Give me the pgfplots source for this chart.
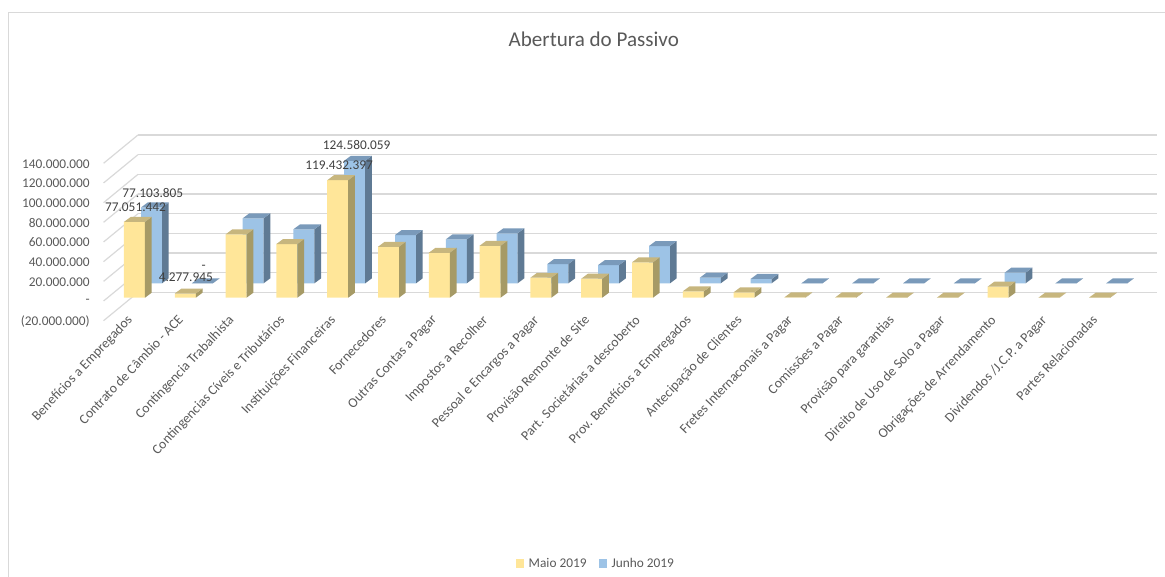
\documentclass[border=0pt]{standalone}
\usepackage{pgfplots}
\usepackage{pgfplotstable}
\usepackage{fontspec}
\setmainfont{Carlito}
\pgfplotsset{compat=1.18}
\definecolor{gridc}{HTML}{D9D9D9}
\definecolor{txt}{HTML}{595959}
\definecolor{lab}{HTML}{404040}
\definecolor{mf}{HTML}{FFE699}
\definecolor{ms}{HTML}{A69A66}
\definecolor{mt}{HTML}{C7B67E}
\definecolor{jf}{HTML}{9DC3E6}
\definecolor{js}{HTML}{5F7A94}
\definecolor{jt}{HTML}{7A9ABA}
\pgfplotstableread{
i v
0 77051442
1 4277945
2 64400000
3 54600000
4 119432397
5 51800000
6 45700000
7 52800000
8 20300000
9 19300000
10 36000000
11 6500000
12 5500000
13 400000
14 300000
15 0
16 0
17 11200000
18 0
19 200000
}\maio
\pgfplotstableread{
i v
0 77103805
1 0
2 66000000
3 54900000
4 124580059
5 49100000
6 44700000
7 50800000
8 19600000
9 18600000
10 37900000
11 5700000
12 4400000
13 0
14 0
15 0
16 0
17 10800000
18 0
19 0
}\junho
% extrusion of a bar: half width and depth in category units, depth rise in value units
\def\hw{0.2067}
\def\dx{0.132}
\def\dy{5080000}
\newcommand\extrude[4]{% table, side colour, top colour, row
  \pgfplotstablegetelem{#4}{v}\of#1%
  \let\val\pgfplotsretval
  \begingroup
  \pgfkeys{/pgf/fpu=true,/pgf/fpu/output format=fixed}%
  \pgfmathparse{\val+\dy}\xdef\vtop{\pgfmathresult}%
  \pgfkeys{/pgf/fpu=false}%
  \endgroup
  \pgfmathsetmacro\xa{#4-\hw}\pgfmathsetmacro\xb{#4+\hw}%
  \pgfmathsetmacro\xc{#4+\hw+\dx}\pgfmathsetmacro\xd{#4-\hw+\dx}%
  \addplot[fill=#2,draw=none,forget plot] coordinates {(\xb,0) (\xc,\dy) (\xc,\vtop) (\xb,\val)} --cycle;
  \addplot[fill=#3,draw=none,forget plot] coordinates {(\xa,\val) (\xb,\val) (\xc,\vtop) (\xd,\vtop)} --cycle;
}
\pgfplotsset{
  barsaxis/.style={
    scale only axis,
    anchor=south west,
    width=1016*0.75pt,
    height=157.4*0.75pt,
    xmin=-0.5,xmax=19.5,
    ymin=-20000000,ymax=140000000,
    clip=false,
    ymajorticks=false,
    axis line style={draw=none},
    major tick length=0pt,
    bar width=0.4134,
    bar shift=0pt,
  },
}
\begin{document}
\begin{tikzpicture}[x=1pt,y=1pt]
\path[use as bounding box] (0,0) rectangle (873.75pt,432.75pt);
\draw[gridc,line width=0.9pt] (6.4pt,0pt) -- (6.4pt,423.4pt) -- (873.75pt,423.4pt);

% back wall with its grid and the value labels
\begin{axis}[
  scale only axis,
  anchor=south west,
  at={(103.5pt,213.45pt)},
  width=763.9pt,
  height=118.05pt,
  xmin=0,xmax=1,
  ymin=-20000000,ymax=140000000,
  clip=false,
  scaled y ticks=false,
  axis line style={draw=none},
  xmajorticks=false,
  major tick length=0pt,
  ytick={-20000000,0,20000000,40000000,60000000,80000000,100000000,120000000,140000000},
  yticklabels={(20.000.000),-\hspace{7.5pt},20.000.000\hspace{2.5pt},40.000.000\hspace{2.5pt},60.000.000\hspace{2.5pt},80.000.000\hspace{2.5pt},100.000.000\hspace{2.5pt},120.000.000\hspace{2.5pt},140.000.000\hspace{2.5pt}},
  ymajorgrids,
  grid style={gridc,line width=0.9pt},
  yticklabel style={font=\fontsize{10}{12}\selectfont,text=txt,anchor=east,inner sep=0pt,xshift=-36pt,yshift=-21.6pt},
  title={\fontsize{15.8}{19}\selectfont\color{txt}Abertura do Passivo},
  title style={at={(0.4475,1.61)},anchor=center,yshift=-6pt},
]
\addplot[gridc,line width=0.9pt,forget plot] coordinates {(0,140000000) (-0.0338,111240000)};
\addplot[gridc,line width=0.9pt,forget plot] coordinates {(0,120000000) (-0.0338,91240000)};
\addplot[gridc,line width=0.9pt,forget plot] coordinates {(0,100000000) (-0.0338,71240000)};
\addplot[gridc,line width=0.9pt,forget plot] coordinates {(0,80000000) (-0.0338,51240000)};
\addplot[gridc,line width=0.9pt,forget plot] coordinates {(0,60000000) (-0.0338,31240000)};
\addplot[gridc,line width=0.9pt,forget plot] coordinates {(0,40000000) (-0.0338,11240000)};
\addplot[gridc,line width=0.9pt,forget plot] coordinates {(0,20000000) (-0.0338,-8760000)};
\addplot[gridc,line width=0.9pt,forget plot] coordinates {(0,0) (-0.0338,-28760000)};
\addplot[gridc,line width=0.9pt,forget plot] coordinates {(0,-20000000) (-0.0338,-48760000)};
\end{axis}

% Junho 2019 (back row)
\begin{axis}[barsaxis,at={(94.575pt,205.5pt)},xmajorticks=false]
\addplot[ybar,fill=jf,draw=none,forget plot] table[x=i,y=v] {\junho};
\pgfplotsinvokeforeach{0,...,19}{\extrude{\junho}{js}{jt}{#1}}
\node[font=\fontsize{10}{12}\selectfont,text=lab] at (axis cs:0,77103805) [xshift=1pt,yshift=11pt] {77.103.805};
\node[font=\fontsize{10}{12}\selectfont,text=lab] at (axis cs:1,0) [xshift=1pt,yshift=12pt] {-};
\node[font=\fontsize{10}{12}\selectfont,text=lab] at (axis cs:4,124580059) [xshift=1.5pt,yshift=11.8pt] {124.580.059};
\end{axis}

% Maio 2019 (front row)
\begin{axis}[barsaxis,at={(81.825pt,194.7pt)},
  xtick={0,...,19},
  xticklabels={Benefícios a Empregados,Contrato de Câmbio - ACE,Contingencia Trabalhista,Contingencias Cíveis e Tributários,Instituições Financeiras,Fornecedores,Outras Contas a Pagar,Impostos a Recolher,Pessoal e Encargos a Pagar,Provisão Remonte de Site,Part. Societárias a descoberto,Prov. Benefícios a Empregados,Antecipação de Clientes,Fretes Internaconais a Pagar,Comissões a Pagar,Provisão para garantias,Direito de Uso de Solo a Pagar,Obrigações de Arrendamento,Dividendos /J.C.P. a Pagar,Partes Relacionadas},
  xticklabel style={font=\fontsize{10.3}{12}\selectfont,text=txt,rotate=46.5,anchor=north east,inner sep=0pt,xshift=-2.46pt,yshift=6.46pt},
  legend style={at={(0.4797,-1.5635)},anchor=center,draw=none,fill=none,legend columns=2,
    font=\fontsize{10}{12}\selectfont,text=txt,
    /tikz/every even column/.append style={column sep=7.5pt}},
  legend cell align=left,
  legend image code/.code={\fill[#1,draw=none] (0pt,-3.3pt) rectangle (5.8pt,3.2pt);},
]
\addplot[ybar,fill=mf,draw=none,forget plot] table[x=i,y=v] {\maio};
\pgfplotsinvokeforeach{0,...,19}{\extrude{\maio}{ms}{mt}{#1}}
\node[font=\fontsize{10}{12}\selectfont,text=lab] at (axis cs:0,77051442) [xshift=0.75pt,yshift=11.2pt] {77.051.442};
\node[font=\fontsize{10}{12}\selectfont,text=lab] at (axis cs:1,4277945) [xshift=0.4pt,yshift=12.4pt] {4.277.945};
\node[font=\fontsize{10}{12}\selectfont,text=lab] at (axis cs:4,119432397) [xshift=1pt,yshift=11.2pt] {119.432.397};
\addlegendimage{fill=mf,draw=none}
\addlegendentry{\hspace{1.5pt}Maio 2019}
\addlegendimage{fill=jf,draw=none}
\addlegendentry{\hspace{1.5pt}Junho 2019}
\end{axis}
\end{tikzpicture}
\end{document}
